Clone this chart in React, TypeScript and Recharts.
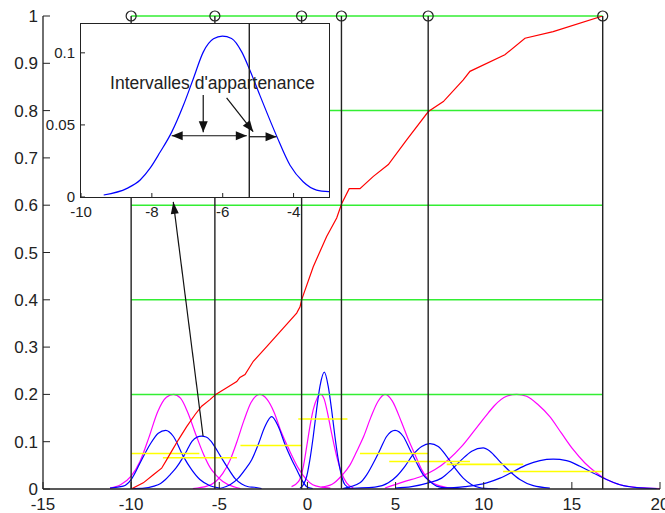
import {
  ComposedChart,
  Line,
  XAxis,
  YAxis,
  ReferenceLine,
  ReferenceDot,
} from "recharts";

const FONT = "Arial, 'Liberation Sans', Helvetica, sans-serif";
const INK = "#222";

// axes
const xTicks = [-15, -10, -5, 0, 5, 10, 15, 20];
const yTicks = [0, 0.1, 0.2, 0.3, 0.4, 0.5, 0.6, 0.7, 0.8, 0.9, 1];
const insetXTicks = [-10, -8, -6, -4];
const insetYTicks = [0, 0.05, 0.1];

// cut points (black verticals + circles) and green levels
const cutPoints = [-10, -5.25, -0.33, 1.93, 6.85, 16.75];
const levels = [0.2, 0.4, 0.6, 0.8, 1];

// red cumulative curve
const cumulative: [number, number][] = [
  [-10, 0], [-9.31, 0.013], [-8.74, 0.03], [-8.27, 0.044], [-7.98, 0.062],
  [-7.7, 0.08], [-7.32, 0.104], [-6.85, 0.132], [-6.38, 0.157], [-6.0, 0.175],
  [-5.53, 0.189], [-5.2, 0.2], [-4.58, 0.214], [-4.01, 0.227], [-3.83, 0.236],
  [-3.54, 0.242], [-3.07, 0.27], [-2.31, 0.301], [-1.37, 0.34], [-0.61, 0.372],
  [-0.42, 0.385], [-0.33, 0.4], [0.33, 0.47], [1.09, 0.534], [1.66, 0.573],
  [1.94, 0.603], [2.37, 0.635], [2.98, 0.635], [3.74, 0.661], [4.59, 0.686],
  [5.63, 0.738], [6.86, 0.798], [7.71, 0.819], [8.84, 0.865], [9.22, 0.883],
  [11.2, 0.918], [12.34, 0.953], [13.94, 0.967], [16.75, 1.0],
];

// magenta membership curves
const magenta1: [number, number][] = [
  [-11.2, 0.002], [-10.6, 0.009], [-10.0, 0.027], [-9.5, 0.058], [-9.0, 0.108],
  [-8.5, 0.163], [-8.0, 0.194], [-7.6, 0.2], [-7.2, 0.192], [-6.8, 0.163],
  [-6.3, 0.112], [-5.9, 0.074], [-5.5, 0.044], [-5.2, 0.03], [-4.8, 0.016],
  [-4.2, 0.005], [-3.8, 0.001],
];
const magenta2: [number, number][] = [
  [-6.5, 0.001], [-5.7, 0.006], [-5.2, 0.016], [-4.8, 0.033], [-4.4, 0.06],
  [-4.0, 0.1], [-3.6, 0.145], [-3.2, 0.183], [-2.7, 0.2], [-2.3, 0.19],
  [-1.9, 0.163], [-1.5, 0.122], [-1.0, 0.08], [-0.5, 0.043], [-0.1, 0.022],
  [0.3, 0.009], [0.8, 0.004], [1.3, 0.002],
];
const magenta3: [number, number][] = [
  [-0.9, 0.005], [-0.5, 0.016], [-0.23, 0.048], [-0.04, 0.09], [0.14, 0.132],
  [0.33, 0.168], [0.55, 0.192], [0.75, 0.2], [0.95, 0.19], [1.1, 0.168],
  [1.37, 0.118], [1.66, 0.069], [1.94, 0.034], [2.22, 0.013], [2.6, 0.002],
];
const magenta4: [number, number][] = [
  [0.8, 0.004], [1.4, 0.01], [1.94, 0.028], [2.4, 0.05], [2.8, 0.08],
  [3.2, 0.112], [3.6, 0.152], [4.0, 0.185], [4.4, 0.2], [4.8, 0.187],
  [5.35, 0.14], [5.73, 0.104], [6.1, 0.073], [6.48, 0.041], [6.86, 0.02],
  [7.33, 0.009], [7.8, 0.004], [8.5, 0.001],
];
const magenta5: [number, number][] = [
  [4.4, 0.002], [5.53, 0.016], [6.48, 0.027], [7.24, 0.041], [7.99, 0.062],
  [8.75, 0.09], [9.5, 0.125], [10.26, 0.161], [10.6, 0.176], [11.3, 0.196],
  [11.87, 0.2], [12.43, 0.196], [13.09, 0.178], [13.75, 0.153], [14.41, 0.118],
  [15.08, 0.083], [15.74, 0.055], [16.4, 0.034], [16.97, 0.02], [17.73, 0.009],
  [18.48, 0.004], [19.24, 0.002], [20, 0.001],
];

// the blue curve shown enlarged in the inset
const insetCurve: [number, number][] = [
  [-9.36, 0.0014], [-8.7, 0.006], [-8.33, 0.0118], [-8.05, 0.02], [-7.77, 0.031],
  [-7.44, 0.045], [-7.11, 0.0636], [-6.83, 0.082], [-6.55, 0.1005], [-6.26, 0.1097],
  [-6.01, 0.1116], [-5.75, 0.11], [-5.46, 0.1005], [-5.25, 0.089], [-4.95, 0.0705],
  [-4.48, 0.0424], [-4.1, 0.022], [-3.73, 0.0106], [-3.35, 0.0048], [-3.0, 0.0037],
];

// blue curves
const blue1: [number, number][] = [
  [-11.2, 0.002], [-10.45, 0.006], [-10, 0.02], [-9.4, 0.062], [-8.93, 0.094],
  [-8.46, 0.118], [-8.04, 0.124], [-7.6, 0.111], [-7.04, 0.069], [-6.57, 0.041],
  [-6.1, 0.02], [-5.53, 0.007], [-4.96, 0.002],
];
const blue2: [number, number][] = [[-9.9, 0.001], ...insetCurve, [-2.6, 0.001]];
const blue3: [number, number][] = [
  [-5.0, 0.001], [-4.39, 0.009], [-3.92, 0.023], [-3.54, 0.041], [-3.16, 0.062],
  [-2.79, 0.094], [-2.41, 0.132], [-2.03, 0.153], [-1.65, 0.132], [-1.27, 0.094],
  [-0.89, 0.062], [-0.61, 0.041], [-0.33, 0.02], [-0.04, 0.005], [0.3, 0.001],
];
const blue4: [number, number][] = [
  [-0.42, 0.002], [-0.23, 0.009], [-0.04, 0.027], [0.14, 0.062], [0.33, 0.111],
  [0.52, 0.168], [0.71, 0.217], [0.96, 0.247], [1.18, 0.217], [1.37, 0.168],
  [1.56, 0.111], [1.75, 0.062], [1.94, 0.027], [2.13, 0.009], [2.41, 0.002],
];
const blue5: [number, number][] = [
  [2.0, 0.001], [2.98, 0.013], [3.36, 0.03], [3.74, 0.055], [4.12, 0.083],
  [4.49, 0.111], [4.97, 0.124], [5.44, 0.111], [5.82, 0.083], [6.2, 0.055],
  [6.57, 0.03], [6.95, 0.016], [7.42, 0.005], [7.99, 0.002], [9.0, 0.0],
];
const blue6: [number, number][] = [
  [2.0, 0.001], [3.83, 0.004], [4.59, 0.013], [5.06, 0.027], [5.53, 0.048],
  [6.0, 0.073], [6.48, 0.09], [6.95, 0.096], [7.42, 0.09], [7.9, 0.069],
  [8.37, 0.044], [8.84, 0.023], [9.32, 0.009], [9.88, 0.002], [10.8, 0.0],
];
const blue7: [number, number][] = [
  [4.97, 0.002], [5.91, 0.005], [6.86, 0.013], [7.61, 0.023], [8.18, 0.041],
  [8.75, 0.062], [9.32, 0.08], [9.97, 0.087], [10.35, 0.08], [10.92, 0.058],
  [11.49, 0.037], [12.05, 0.02], [12.81, 0.007], [13.75, 0.002],
];
const blue8: [number, number][] = [
  [7.42, 0.001], [8.94, 0.005], [10.17, 0.013], [10.92, 0.023], [11.68, 0.037],
  [12.43, 0.051], [13.19, 0.06], [13.94, 0.063], [14.7, 0.06], [15.46, 0.048],
  [16.21, 0.034], [16.97, 0.02], [17.73, 0.009], [18.68, 0.003], [19.81, 0.001],
];

// yellow intervals: [from, to, level]
const intervals: [number, number, number][] = [
  [-10, -6.13, 0.075], [-8.2, -4.0, 0.066], [-3.8, -0.35, 0.092], [-0.52, 2.27, 0.148],
  [2.98, 6.84, 0.075], [4.64, 9.22, 0.058], [7.9, 12.24, 0.052], [11.1, 16.7, 0.037],
];

// annotations
const insetArrows: { from: [number, number]; to: [number, number]; both: boolean }[] = [
  { from: [-7.44, 0.0425], to: [-5.32, 0.0425], both: true },
  { from: [-5.25, 0.0418], to: [-4.48, 0.0418], both: false },
  { from: [-6.55, 0.0708], to: [-6.55, 0.0449], both: false },
  { from: [-5.89, 0.0687], to: [-5.14, 0.0453], both: false },
];
const insetMark = -5.25;
const mainArrow = { from: [-5.92, 0.112], to: [-7.61, 0.607] };
const note = { x: -6.29, y: 0.0749, text: "Intervalles d'appartenance" };

const pts = (a: [number, number][]) => a.map(([x, y]) => ({ x, y }));

const magentas = [magenta1, magenta2, magenta3, magenta4, magenta5];
const blues = [blue1, blue2, blue3, blue4, blue5, blue6, blue7, blue8];

const arrowShape = (both: boolean, len: number, half: number) => (p: any) => {
  const { x1, y1, x2, y2 } = p;
  const a = Math.atan2(y2 - y1, x2 - x1);
  const head = (x: number, y: number, ang: number) => {
    const bx = x - len * Math.cos(ang);
    const by = y - len * Math.sin(ang);
    const nx = -Math.sin(ang) * half;
    const ny = Math.cos(ang) * half;
    return (
      <polygon
        points={`${x},${y} ${bx + nx},${by + ny} ${bx - nx},${by - ny}`}
        fill="#111"
      />
    );
  };
  return (
    <g>
      <line x1={x1} y1={y1} x2={x2} y2={y2} stroke="#111" strokeWidth={1.2} />
      {head(x2, y2, a)}
      {both && head(x1, y1, a + Math.PI)}
    </g>
  );
};

const MainXTick = ({ x, y, payload }: any) => (
  <g>
    <line x1={x} y1={y} x2={x} y2={y - 7} stroke={INK} />
    <text x={x} y={y + 21} textAnchor="middle" fontSize={17} fontFamily={FONT} fill={INK}>
      {String(payload.value)}
    </text>
  </g>
);

const MainYTick = ({ x, y, payload }: any) => (
  <g>
    <line x1={x + 5} y1={y} x2={x + 12} y2={y} stroke={INK} />
    <text x={x} y={y + 6} textAnchor="end" fontSize={17} fontFamily={FONT} fill={INK}>
      {String(payload.value)}
    </text>
  </g>
);

const InsetXTick = ({ x, y, payload }: any) => (
  <g>
    <line x1={x} y1={y} x2={x} y2={y - 4} stroke={INK} />
    <text x={x} y={y + 20} textAnchor="middle" fontSize={15} fontFamily={FONT} fill={INK}>
      {String(payload.value)}
    </text>
  </g>
);

const InsetTopTick = ({ x, y }: any) => (
  <line x1={x} y1={y} x2={x} y2={y + 4} stroke={INK} />
);

const InsetYTick = ({ x, y, payload }: any) => (
  <g>
    <line x1={x + 6} y1={y} x2={x + 10} y2={y} stroke={INK} />
    <text x={x} y={y + 5} textAnchor="end" fontSize={15} fontFamily={FONT} fill={INK}>
      {String(payload.value)}
    </text>
  </g>
);

const InsetRightTick = ({ x, y }: any) => (
  <line x1={x} y1={y} x2={x - 4} y2={y} stroke={INK} />
);

const lineProps = {
  type: "monotone" as const,
  dataKey: "y",
  dot: false,
  activeDot: false,
  isAnimationActive: false,
  strokeWidth: 1.2,
};

const MainChart = () => (
  <ComposedChart width={665} height={513} margin={{ top: 16, right: 5, bottom: 0, left: 0 }}>
    <XAxis
      type="number"
      dataKey="x"
      domain={[-15, 20]}
      ticks={xTicks}
      interval={0}
      allowDataOverflow
      height={24}
      tickSize={0}
      tickMargin={0}
      tickLine={false}
      tick={MainXTick}
      axisLine={{ stroke: INK, strokeWidth: 1.3 }}
    />
    <YAxis
      type="number"
      domain={[0, 1]}
      ticks={yTicks}
      interval={0}
      allowDataOverflow
      width={43}
      tickSize={0}
      tickMargin={5}
      tickLine={false}
      tick={MainYTick}
      axisLine={{ stroke: INK, strokeWidth: 1.3 }}
    />
    {magentas.map((m, i) => (
      <Line key={`m${i}`} {...lineProps} data={pts(m)} stroke="#ff00ff" />
    ))}
    {blues.map((b, i) => (
      <Line key={`b${i}`} {...lineProps} data={pts(b)} stroke="#0000ff" />
    ))}
    {intervals.map(([a, b, y], i) => (
      <ReferenceLine
        key={`y${i}`}
        segment={[{ x: a, y }, { x: b, y }]}
        stroke="#ffff00"
        strokeWidth={1.6}
      />
    ))}
    {levels.map((y) => (
      <ReferenceLine
        key={`g${y}`}
        segment={[{ x: cutPoints[0], y }, { x: cutPoints[cutPoints.length - 1], y }]}
        stroke="#33ee33"
        strokeWidth={1.5}
      />
    ))}
    <Line {...lineProps} type="linear" data={pts(cumulative)} stroke="#ff0000" />
    {cutPoints.map((x) => (
      <ReferenceLine
        key={`v${x}`}
        segment={[{ x, y: 0 }, { x, y: 1 }]}
        stroke={INK}
        strokeWidth={1.4}
      />
    ))}
    {cutPoints.map((x) => (
      <ReferenceDot key={`c${x}`} x={x} y={1} r={5} fill="none" stroke={INK} strokeWidth={1.2} />
    ))}
    <ReferenceLine
      segment={[
        { x: mainArrow.from[0], y: mainArrow.from[1] },
        { x: mainArrow.to[0], y: mainArrow.to[1] },
      ]}
      shape={arrowShape(false, 12, 4)}
    />
  </ComposedChart>
);

const InsetChart = () => (
  <ComposedChart width={340} height={225} margin={{ top: 24, right: 11, bottom: 0, left: 0 }}>
    <XAxis
      xAxisId="b"
      type="number"
      dataKey="x"
      domain={[-10, -3]}
      ticks={insetXTicks}
      interval={0}
      allowDataOverflow
      height={28}
      tickSize={0}
      tickMargin={0}
      tickLine={false}
      axisLine={false}
      tick={InsetXTick}
    />
    <XAxis
      xAxisId="t"
      orientation="top"
      type="number"
      dataKey="x"
      domain={[-10, -3]}
      ticks={insetXTicks.slice(1)}
      interval={0}
      allowDataOverflow
      height={0}
      tickSize={0}
      tickMargin={0}
      tickLine={false}
      axisLine={false}
      tick={InsetTopTick}
    />
    <YAxis
      yAxisId="l"
      type="number"
      domain={[0, 0.12]}
      ticks={insetYTicks}
      interval={0}
      allowDataOverflow
      width={81}
      tickSize={0}
      tickMargin={6}
      tickLine={false}
      axisLine={false}
      tick={InsetYTick}
    />
    <YAxis
      yAxisId="r"
      orientation="right"
      type="number"
      domain={[0, 0.12]}
      ticks={insetYTicks.slice(1)}
      interval={0}
      allowDataOverflow
      width={0}
      tickSize={0}
      tickMargin={0}
      tickLine={false}
      axisLine={false}
      tick={InsetRightTick}
    />
    <Line
      {...lineProps}
      xAxisId="b"
      yAxisId="l"
      data={pts(insetCurve)}
      stroke="#0000ff"
    />
    <ReferenceLine xAxisId="b" yAxisId="l" x={insetMark} stroke={INK} strokeWidth={1.4} />
    {insetArrows.map((ar, i) => (
      <ReferenceLine
        key={`a${i}`}
        xAxisId="b"
        yAxisId="l"
        segment={[
          { x: ar.from[0], y: ar.from[1] },
          { x: ar.to[0], y: ar.to[1] },
        ]}
        shape={arrowShape(ar.both, 11, 4.5)}
      />
    ))}
    <ReferenceDot
      xAxisId="b"
      yAxisId="l"
      x={note.x}
      y={note.y}
      r={0}
      shape={(p: any) => (
        <text x={p.cx} y={p.cy} textAnchor="middle" fontSize={17.5} fontFamily={FONT} fill={INK}>
          {note.text}
        </text>
      )}
    />
  </ComposedChart>
);

export default function App() {
  return (
    <div
      style={{
        position: "absolute",
        left: 0,
        top: 0,
        width: 665,
        height: 513,
        background: "#fff",
        overflow: "hidden",
      }}
    >
      <div style={{ position: "absolute", left: 0, top: 0 }}>
        <MainChart />
      </div>
      <div
        style={{
          position: "absolute",
          left: 80,
          top: 23,
          width: 250,
          height: 175,
          boxSizing: "border-box",
          border: `1.5px solid ${INK}`,
          background: "#fff",
        }}
      />
      <div style={{ position: "absolute", left: 0, top: 0 }}>
        <InsetChart />
      </div>
    </div>
  );
}
